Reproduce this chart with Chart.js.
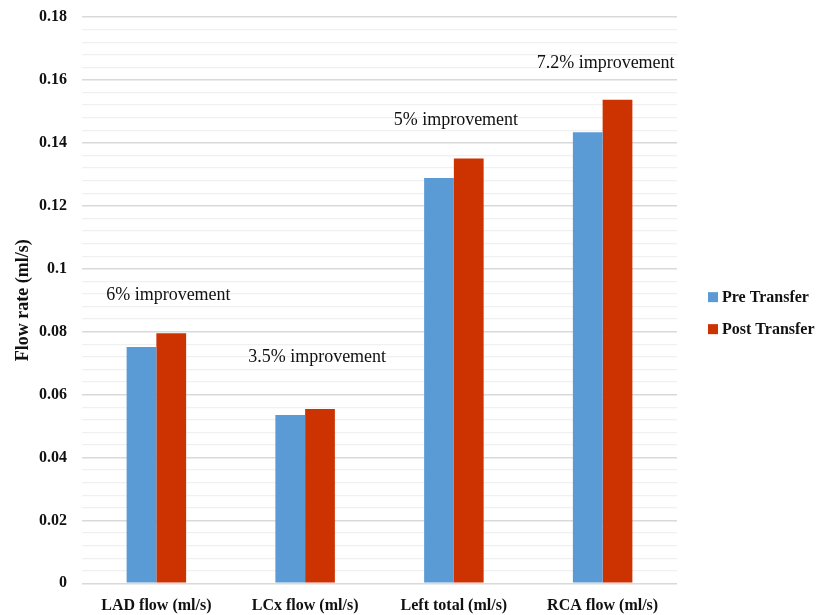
<!DOCTYPE html>
<html>
<head>
<meta charset="utf-8">
<script src="https://cdn.jsdelivr.net/npm/chart.js@4.4.1/dist/chart.umd.min.js"></script>
<style>
  html, body { margin: 0; padding: 0; background: #ffffff; }
  #wrap { width: 821px; height: 615px; position: relative; }
</style>
</head>
<body>
<div id="wrap"><canvas id="c" width="821" height="615"></canvas></div>
<script>
// Coronary flow rates before and after transfer
const categories = ['LAD flow (ml/s)', 'LCx flow (ml/s)', 'Left total (ml/s)', 'RCA flow (ml/s)'];
const preTransfer = [0.0751, 0.0535, 0.1288, 0.1434];
const postTransfer = [0.0795, 0.0554, 0.1350, 0.1537];
const improvementLabels = ['6% improvement', '3.5% improvement', '5% improvement', '7.2% improvement'];
const yTickLabels = ['0', '0.02', '0.04', '0.06', '0.08', '0.1', '0.12', '0.14', '0.16', '0.18'];

const serif = '"Liberation Serif", "Times New Roman", serif';
const isMajor = v => Math.abs(v / 0.02 - Math.round(v / 0.02)) < 1e-6;

// Text above each group, placed from the post-transfer value
const improvementText = {
  id: 'improvementText',
  afterDatasetsDraw(chart, args, opts) {
    const { ctx, scales: { x, y } } = chart;
    ctx.save();
    ctx.font = '18px ' + serif;
    ctx.fillStyle = '#111111';
    ctx.textAlign = 'center';
    ctx.textBaseline = 'middle';
    improvementLabels.forEach((t, i) => {
      const px = x.getPixelForValue(i) + opts.dx[i];
      const py = y.getPixelForValue(postTransfer[i]) - opts.dy[i];
      ctx.fillText(t, px, py);
    });
    ctx.restore();
  }
};

// Legend on the right, drawn from the datasets
const sideLegend = {
  id: 'sideLegend',
  afterDraw(chart, args, opts) {
    const { ctx, chartArea } = chart;
    const cy = (chartArea.top + chartArea.bottom) / 2;
    const bx = chartArea.right + opts.gap;
    ctx.save();
    ctx.font = 'bold 16px ' + serif;
    ctx.textAlign = 'left';
    ctx.textBaseline = 'middle';
    chart.data.datasets.forEach((ds, i) => {
      const iy = cy + opts.offsetY + i * opts.spacing;
      ctx.fillStyle = ds.backgroundColor;
      ctx.fillRect(bx, iy - 5, 10, 10);
      ctx.fillStyle = '#111111';
      ctx.fillText(ds.label, bx + 14, iy + 1);
    });
    ctx.restore();
  }
};

new Chart(document.getElementById('c'), {
  type: 'bar',
  data: {
    labels: categories,
    datasets: [
      { label: 'Pre Transfer', data: preTransfer, backgroundColor: '#5B9BD5', borderWidth: 0 },
      { label: 'Post Transfer', data: postTransfer, backgroundColor: '#CC3300', borderWidth: 0 }
    ]
  },
  options: {
    responsive: false,
    animation: false,
    devicePixelRatio: 1,
    layout: { padding: { top: 17, right: 144, bottom: 0, left: 13 } },
    datasets: { bar: { categoryPercentage: 0.4, barPercentage: 1.0 } },
    scales: {
      x: {
        grid: { display: false, drawTicks: false },
        border: { display: false },
        afterFit: s => { s.height = 31.7; s.paddingLeft = 0; s.paddingRight = 0; },
        ticks: { color: '#111111', font: { family: serif, size: 16, weight: 'bold' }, padding: 13 }
      },
      y: {
        min: 0,
        max: 0.18,
        border: { display: false },
        afterFit: s => { s.width = 69; s.paddingTop = 0; s.paddingBottom = 0; },
        grid: {
          drawTicks: false,
          color: ctx => isMajor(ctx.tick.value) ? '#d9d9d9' : '#f0f0f0',
          lineWidth: ctx => isMajor(ctx.tick.value) ? 1.5 : 1.2
        },
        ticks: {
          stepSize: 0.004,
          autoSkip: false,
          padding: 15,
          color: '#111111',
          font: { family: serif, size: 16, weight: 'bold' },
          callback: v => isMajor(v) ? yTickLabels[Math.round(v / 0.02)] : ''
        },
        title: {
          display: true,
          text: 'Flow rate (ml/s)',
          color: '#111111',
          font: { family: serif, size: 18, weight: 'bold' },
          padding: { top: 0, bottom: 6 }
        }
      }
    },
    plugins: {
      legend: { display: false },
      tooltip: { enabled: false },
      improvementText: { dx: [12, 12, 2, 3], dy: [38, 52, 38, 36] },
      sideLegend: { gap: 31, offsetY: -3, spacing: 32 }
    }
  },
  plugins: [improvementText, sideLegend]
});
</script>
</body>
</html>
